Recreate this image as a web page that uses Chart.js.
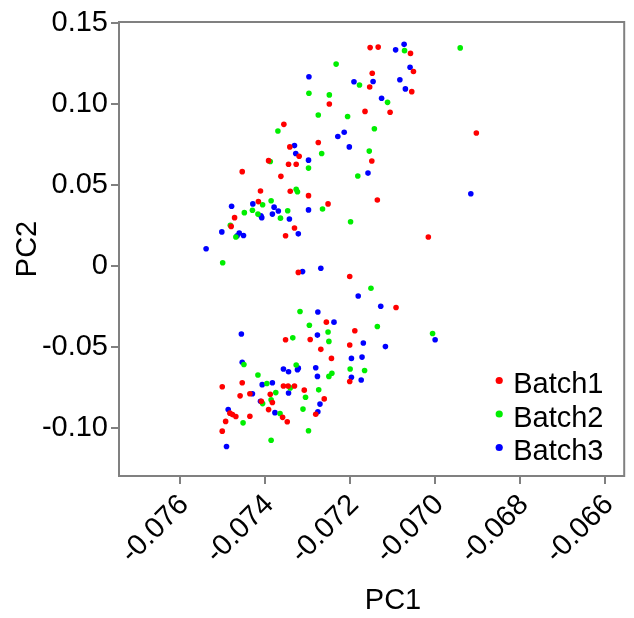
<!DOCTYPE html>
<html>
<head>
<meta charset="utf-8">
<script src="https://cdn.jsdelivr.net/npm/chart.js@4/dist/chart.umd.min.js"></script>
<style>
  html, body { margin: 0; padding: 0; background: #fff; }
  #wrap { width: 634px; height: 618px; }
</style>
</head>
<body>
<div id="wrap"><canvas id="pca-chart" width="634" height="618"></canvas></div>
<script>
// series names + colours
const seriesNames = ['Batch1', 'Batch2', 'Batch3'];
const seriesColors = ['#ff0000', '#00ee00', '#0000ff'];

// [PC1, PC2]
const batch1 = [
  [-0.07153, 0.1347], [-0.07134, 0.1350], [-0.07058, 0.1311], [-0.07148, 0.1189], [-0.07051, 0.1199],
  [-0.07154, 0.1104], [-0.07055, 0.1075], [-0.07249, 0.0999], [-0.07165, 0.0953], [-0.07106, 0.0948],
  [-0.06903, 0.0820], [-0.07356, 0.0873], [-0.07275, 0.0761], [-0.07342, 0.0734], [-0.07320, 0.0676],
  [-0.07392, 0.0649], [-0.07345, 0.0627], [-0.07327, 0.0627], [-0.07149, 0.0647], [-0.07454, 0.0581],
  [-0.07363, 0.0552], [-0.07341, 0.0460], [-0.07411, 0.0462], [-0.07298, 0.0433], [-0.07416, 0.0396],
  [-0.07252, 0.0382], [-0.07136, 0.0406], [-0.07472, 0.0297], [-0.07480, 0.0243], [-0.07331, 0.0233],
  [-0.07352, 0.0185], [-0.07016, 0.0178],
  [-0.07322, -0.0041], [-0.07201, -0.0066], [-0.07092, -0.0258], [-0.07256, -0.0348], [-0.07189, -0.0401],
  [-0.07352, -0.0457], [-0.07294, -0.0455], [-0.07269, -0.0516], [-0.07201, -0.0489], [-0.07244, -0.0572],
  [-0.07501, -0.0747], [-0.07454, -0.0722], [-0.07201, -0.0715], [-0.07459, -0.0803], [-0.07436, -0.0790],
  [-0.07357, -0.0742], [-0.07346, -0.0742], [-0.07331, -0.0742], [-0.07388, -0.0793], [-0.07383, -0.0844],
  [-0.07409, -0.0837], [-0.07308, -0.0768], [-0.07392, -0.0888], [-0.07261, -0.0822], [-0.07483, -0.0910],
  [-0.07477, -0.0919], [-0.07469, -0.0931], [-0.07436, -0.0929], [-0.07359, -0.0936], [-0.07348, -0.0963],
  [-0.07281, -0.0917], [-0.07493, -0.0961], [-0.07501, -0.1021]
];

const batch2 = [
  [-0.06941, 0.1345], [-0.07072, 0.1328], [-0.07233, 0.1245], [-0.07178, 0.1116], [-0.07297, 0.1065],
  [-0.07249, 0.1055], [-0.07112, 0.1009], [-0.07275, 0.0931], [-0.07206, 0.0922], [-0.07370, 0.0832],
  [-0.07143, 0.0846], [-0.07267, 0.0693], [-0.07155, 0.0708], [-0.07388, 0.0644], [-0.07298, 0.0603],
  [-0.07182, 0.0554], [-0.07327, 0.0472], [-0.07324, 0.0457], [-0.07386, 0.0401], [-0.07406, 0.0377],
  [-0.07449, 0.0328], [-0.07430, 0.0343], [-0.07417, 0.0319], [-0.07347, 0.0340], [-0.07265, 0.0350],
  [-0.07364, 0.0294], [-0.07199, 0.0272], [-0.07482, 0.0250], [-0.07469, 0.0178], [-0.07500, 0.0019],
  [-0.07151, -0.0139], [-0.07318, -0.0282], [-0.07296, -0.0367], [-0.07136, -0.0375], [-0.07252, -0.0409],
  [-0.07335, -0.0445], [-0.07250, -0.0467], [-0.07006, -0.0418], [-0.07450, -0.0610], [-0.07327, -0.0613],
  [-0.07200, -0.0637], [-0.07166, -0.0647], [-0.07243, -0.0664], [-0.07250, -0.0683], [-0.07417, -0.0674],
  [-0.07396, -0.0727], [-0.07375, -0.0783], [-0.07341, -0.0754], [-0.07305, -0.0812], [-0.07274, -0.0766],
  [-0.07406, -0.0851], [-0.07386, -0.0827], [-0.07311, -0.0885], [-0.07365, -0.0912], [-0.07452, -0.0970],
  [-0.07298, -0.1019], [-0.07386, -0.1077]
];

const batch3 = [
  [-0.07073, 0.1367], [-0.07093, 0.1333], [-0.07059, 0.1226], [-0.07297, 0.1167], [-0.07191, 0.1136],
  [-0.07146, 0.1138], [-0.07083, 0.1148], [-0.07070, 0.1092], [-0.07126, 0.1034], [-0.07214, 0.0824],
  [-0.07229, 0.0798], [-0.07331, 0.0742], [-0.07328, 0.0693], [-0.07298, 0.0652], [-0.07202, 0.0734],
  [-0.07158, 0.0572], [-0.06916, 0.0445], [-0.07479, 0.0367], [-0.07429, 0.0382], [-0.07379, 0.0362],
  [-0.07369, 0.0338], [-0.07383, 0.0319], [-0.07410, 0.0309], [-0.07408, 0.0297], [-0.07343, 0.0289],
  [-0.07298, 0.0345], [-0.07502, 0.0209], [-0.07461, 0.0202], [-0.07451, 0.0187], [-0.07466, 0.0185],
  [-0.07322, 0.0197], [-0.07539, 0.0105],
  [-0.07312, -0.0036], [-0.07269, -0.0015], [-0.07181, -0.0187], [-0.07128, -0.0250], [-0.07276, -0.0285],
  [-0.07238, -0.0348], [-0.07456, -0.0421], [-0.07277, -0.0428], [-0.07169, -0.0477], [-0.07117, -0.0499],
  [-0.07454, -0.0596], [-0.07197, -0.0572], [-0.07172, -0.0564], [-0.07357, -0.0637], [-0.07345, -0.0654],
  [-0.07322, -0.0632], [-0.07324, -0.0642], [-0.07281, -0.0630], [-0.07277, -0.0683], [-0.07197, -0.0688],
  [-0.07174, -0.0705], [-0.07407, -0.0734], [-0.07383, -0.0722], [-0.07430, -0.0790], [-0.07345, -0.0786],
  [-0.07411, -0.0837], [-0.07271, -0.0854], [-0.07276, -0.0902], [-0.07377, -0.0907], [-0.07487, -0.0888],
  [-0.07491, -0.1116], [-0.07000, -0.0457]
];

// axis ticks
const xTickValues = [-0.076, -0.074, -0.072, -0.070, -0.068, -0.066];
const xTickLabels = ['-0.076', '-0.074', '-0.072', '-0.070', '-0.068', '-0.066'];
const yTickValues = [0.15, 0.10, 0.05, 0, -0.05, -0.10];
const yTickLabels = ['0.15', '0.10', '0.05', '0', '-0.05', '-0.10'];

const FONT = '"Liberation Sans", Arial, sans-serif';
const GRAY = '#808080';

function toPoints(arr) {
  return arr.map(p => ({ x: p[0], y: p[1] }));
}

function labelFor(values, labels, v) {
  const i = values.findIndex(t => Math.abs(t - v) < 1e-9);
  return i >= 0 ? labels[i] : '';
}

// box round the plot area, x title, and the legend inside the plot
const framePlugin = {
  id: 'frame',
  afterDraw(chart) {
    const { ctx, chartArea: a } = chart;
    ctx.save();
    ctx.strokeStyle = GRAY;
    ctx.lineWidth = 2;
    ctx.strokeRect(a.left, a.top, a.right - a.left, a.bottom - a.top);

    // x axis title (sits a bit right of centre in the original)
    ctx.fillStyle = '#000';
    ctx.font = '29px ' + FONT;
    ctx.textAlign = 'center';
    ctx.textBaseline = 'alphabetic';
    ctx.fillText('PC1', a.left + 274, 609);

    // legend
    ctx.textAlign = 'left';
    chart.data.datasets.forEach((ds, i) => {
      const base = a.bottom - 83 + i * 33.5;
      ctx.fillStyle = ds.backgroundColor;
      ctx.beginPath();
      ctx.arc(a.right - 125, base - 12.5, 3.6, 0, Math.PI * 2);
      ctx.fill();
      ctx.fillStyle = '#000';
      ctx.fillText(ds.label, a.right - 111, base);
    });
    ctx.restore();
  }
};

const ctx = document.getElementById('pca-chart').getContext('2d');
const chart = new Chart(ctx, {
  type: 'scatter',
  data: {
    datasets: [batch1, batch2, batch3].map((arr, i) => ({
      label: seriesNames[i],
      data: toPoints(arr),
      backgroundColor: seriesColors[i],
      borderWidth: 0,
      pointRadius: 2.8,
      pointHoverRadius: 2.8
    }))
  },
  options: {
    responsive: false,
    animation: false,
    layout: { padding: { top: 22, right: 8, left: 0, bottom: 0 } },
    plugins: {
      legend: { display: false },
      tooltip: { enabled: false }
    },
    scales: {
      x: {
        type: 'linear',
        min: -0.07744,
        max: -0.06555,
        afterBuildTicks: axis => { axis.ticks = xTickValues.map(v => ({ value: v })); },
        afterFit: axis => { axis.height = 142; },
        border: { display: false },
        grid: { display: true, drawOnChartArea: false, drawTicks: true, tickLength: 8, color: GRAY, lineWidth: 2 },
        ticks: {
          autoSkip: false,
          minRotation: 45,
          maxRotation: 45,
          padding: 4,
          labelOffset: 4,
          color: '#000',
          font: { family: FONT, size: 29 },
          callback: v => labelFor(xTickValues, xTickLabels, v)
        }
      },
      y: {
        type: 'linear',
        min: -0.1298,
        max: 0.1505,
        afterBuildTicks: axis => { axis.ticks = yTickValues.map(v => ({ value: v })); },
        afterFit: axis => { axis.width = 119; },
        border: { display: false },
        grid: { display: true, drawOnChartArea: false, drawTicks: true, tickLength: 8, color: GRAY, lineWidth: 2 },
        title: {
          display: true,
          text: 'PC2',
          color: '#000',
          font: { family: FONT, size: 29 },
          padding: { top: 11, bottom: 0 }
        },
        ticks: {
          padding: 3,
          color: '#000',
          font: { family: FONT, size: 29 },
          callback: v => labelFor(yTickValues, yTickLabels, v)
        }
      }
    }
  },
  plugins: [framePlugin]
});
</script>
</body>
</html>
